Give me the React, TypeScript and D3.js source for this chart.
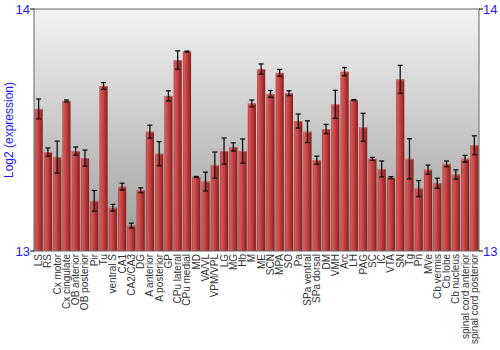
import React from "react";
import * as d3 from "d3";

const categories = ["LS","RS","Cx motor","Cx cingulate","OB anterior","OB posterior","Pir","Tu","ventral S","CA1","CA2/CA3","DG","A anterior","A posterior","GP","CPu lateral","CPu medial","MD","VA/VL","VPM/VPL","LG","MG","Hb","M","ME","SCN","MPA","SO","Pa","SPa ventral","SPa dorsal","DM","VMH","Arc","LH","PAG","SC","IC","VTA","SN","Tg","Pn","MVe","Cb vermis","Cb lobe","Cb nucleus","spinal cord anterior","spinal cord posterior"];
const values = [13.587,13.409,13.388,13.62,13.413,13.384,13.207,13.682,13.179,13.266,13.105,13.251,13.493,13.402,13.641,13.789,13.824,13.306,13.287,13.355,13.413,13.43,13.413,13.61,13.752,13.649,13.736,13.652,13.537,13.493,13.375,13.504,13.606,13.741,13.624,13.511,13.381,13.339,13.303,13.709,13.381,13.258,13.336,13.28,13.36,13.316,13.381,13.437];
const errors = [0.041,0.017,0.066,0.004,0.017,0.033,0.043,0.014,0.014,0.014,0.01,0.01,0.027,0.05,0.021,0.038,0.002,0.002,0.039,0.054,0.054,0.017,0.05,0.014,0.021,0.014,0.014,0.01,0.029,0.045,0.017,0.019,0.058,0.017,0.002,0.058,0.006,0.033,0.004,0.058,0.083,0.033,0.019,0.021,0.012,0.019,0.014,0.039];
const yTicks = [13, 14];
const yTitle = "Log2 (expression)";

export default function App() {
  const W = 500, H = 350;
  const left = 34, right = 479, top = 9, bottom = 251;
  const x = d3.scaleBand<string>().domain(categories).range([left, right]).paddingInner(0.12).paddingOuter(0.06);
  const y = d3.scaleLinear().domain([13, 14]).range([bottom, top]);
  const bw = x.bandwidth();
  return (
    <svg width={W} height={H} style={{ position: "absolute", left: 0, top: 0 }} fontFamily="'Liberation Sans', Arial, sans-serif">
      <defs>
        <linearGradient id="bg" x1="0" y1="0" x2="0" y2="1">
          <stop offset="0" stopColor="#f3f3f3" />
          <stop offset="1" stopColor="#9c9c9c" />
        </linearGradient>
        <linearGradient id="bar" x1="0" y1="0" x2="1" y2="0">
          <stop offset="0" stopColor="#b33a3a" />
          <stop offset="0.15" stopColor="#d45a5a" />
          <stop offset="0.45" stopColor="#c44444" />
          <stop offset="0.8" stopColor="#a42a2a" />
          <stop offset="1" stopColor="#7e1c1c" />
        </linearGradient>
      </defs>
      <rect x={0} y={0} width={W} height={H} fill="#ffffff" />
      <rect x={left} y={top} width={right - left} height={bottom - top} fill="url(#bg)" />
      {categories.map((c, i) => {
        const x0 = x(c)!;
        const yv = y(values[i]);
        return (
          <g key={c}>
            <rect x={x0} y={yv} width={bw} height={bottom - yv} fill="url(#bar)" />
            <rect x={x0} y={yv} width={bw} height={1} fill="#d87070" opacity={0.8} />
          </g>
        );
      })}
      {categories.map((c, i) => {
        const cx = x(c)! + bw / 2;
        const y1 = y(values[i] + errors[i]);
        const y2 = y(values[i] - errors[i]);
        return (
          <g key={"e" + c} stroke="#111" strokeWidth={1.3}>
            <line x1={cx} x2={cx} y1={y1} y2={y2} />
            <line x1={cx - 2.5} x2={cx + 2.5} y1={y1} y2={y1} />
            <line x1={cx - 2.5} x2={cx + 2.5} y1={y2} y2={y2} />
          </g>
        );
      })}
      <rect x={left} y={top} width={right - left} height={bottom - top} fill="none" stroke="#666" strokeWidth={1} />
      {yTicks.map((t) => (
        <g key={t}>
          <line x1={left - 4} x2={left} y1={y(t)} y2={y(t)} stroke="#000" />
          <line x1={right} x2={right + 4} y1={y(t)} y2={y(t)} stroke="#000" />
          <text x={left - 4} y={y(t)} dy="0.35em" textAnchor="end" fontSize={13} fill="#1a1aff">{t}</text>
          <text x={right + 4} y={y(t)} dy="0.35em" textAnchor="start" fontSize={13} fill="#1a1aff">{t}</text>
        </g>
      ))}
      <text transform={`translate(13,${(top + bottom) / 2}) rotate(-90)`} textAnchor="middle" fontSize={12} fill="#1a1aff">{yTitle}</text>
      {categories.map((c) => (
        <text key={"l" + c} transform={`translate(${x(c)! + bw / 2},${bottom + 3}) rotate(-90)`} dy="0.35em" textAnchor="end" fontSize={10} fill="#333">{c}</text>
      ))}
    </svg>
  );
}
